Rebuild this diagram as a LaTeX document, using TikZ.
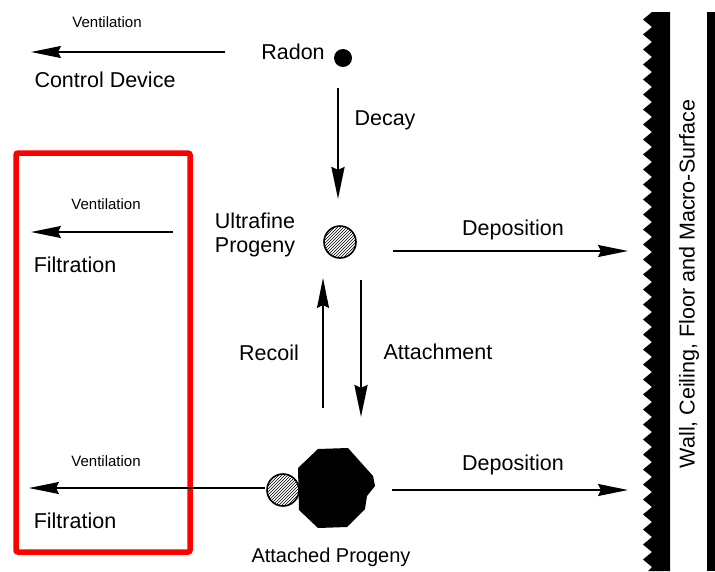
\documentclass[tikz,border=0pt]{standalone}
\usepackage{fontspec}
\setmainfont{Liberation Sans}
\usetikzlibrary{arrows.meta,patterns}
\begin{document}
\begin{tikzpicture}[x=1pt,y=-1pt,
  lbl/.style={inner sep=0pt, font=\fontsize{21.5}{24}\selectfont},
  smalllbl/.style={inner sep=0pt, font=\fontsize{15}{17}\selectfont},
  arr/.style={line width=1.7pt, -{Stealth[length=30pt,width=12pt,inset=3pt]}},
  thinarr/.style={line width=1.3pt, -{Stealth[length=30pt,width=12pt,inset=3pt]}},
  thickarr/.style={line width=2.8pt, -{Stealth[length=32pt,width=13pt,inset=3pt]}},
  hatchball/.style={circle, draw, line width=1.6pt, pattern=north east lines, minimum size=32pt, inner sep=0pt},
]
\useasboundingbox (0,0) rectangle (715,571);
\fill[white] (0,0) rectangle (715,571);

% wall
\fill (670,12) -- (652,12)
  \foreach \i in {0,...,36} { -- (643,{12+15*\i+7.5}) -- (652,{12+15*\i+15}) }
  -- (648,571) -- (670,571) -- cycle;
\fill (707,12) rectangle (715,571);
\node[lbl, rotate=90] (wall) at (689,284) {Wall, Ceiling, Floor and Macro-Surface};

% red box
\draw[red, line width=5.5pt, rounded corners=2pt] (16,153) rectangle (190,552);

% radon and decay
\node[lbl] (radonlbl) at (293,52) {Radon};
\node[circle, fill, minimum size=18pt, inner sep=0pt] (radon) at (343,58) {};
\node[smalllbl] (vent1) at (107,22) {Ventilation};
\node[lbl] (ctrl) at (105,80) {Control Device};
\coordinate (v1s) at (225,52);
\coordinate (v1e) at (31,52);
\draw[arr] (v1s) -- (v1e);

\coordinate (ds) at (338,88);
\coordinate (de) at (338,199);
\draw[thickarr] (ds) -- (de);
\node[lbl] (decay) at (385,120) {Decay};

% ultrafine
\node[lbl, align=center] (ufl) at (255,235) {Ultrafine\\Progeny};
\node[hatchball] (uf) at (340,242) {};
\coordinate (dp1s) at (393,251);
\coordinate (dp1e) at (628,251);
\draw[arr] (dp1s) -- (dp1e);
\node[lbl] (dep1) at (513,230) {Deposition};

\node[smalllbl] (vent2) at (106,204) {Ventilation};
\coordinate (v2s) at (173,232);
\coordinate (v2e) at (31,232);
\draw[arr] (v2s) -- (v2e);
\node[lbl] (filt1) at (75,265) {Filtration};

% recoil / attachment
\coordinate (rs) at (323,408);
\coordinate (re) at (323,278);
\draw[thinarr] (rs) -- (re);
\node[lbl] (recoil) at (269,353) {Recoil};
\coordinate (as) at (361,280);
\coordinate (ae) at (361,417);
\draw[thickarr] (as) -- (ae);
\node[lbl] (attach) at (438,352) {Attachment};

% attached progeny
\fill (318,449) -- (348,448) -- (373,476) -- (375,486) -- (367,496) -- (365,509)
  -- (347,527) -- (318,528) -- (299,510) -- (298,468) -- cycle;
\coordinate (att) at (337,488);
\node[hatchball] (small) at (283,490) {};
\node[lbl, font=\fontsize{20}{22}\selectfont] (attlbl) at (331,557) {Attached Progeny};

\coordinate (dp2s) at (392,490);
\coordinate (dp2e) at (628,490);
\draw[arr] (dp2s) -- (dp2e);
\node[lbl] (dep2) at (513,465) {Deposition};

\node[smalllbl] (vent3) at (106,461) {Ventilation};
\coordinate (v3s) at (265,488);
\coordinate (v3e) at (29,488);
\draw[thinarr] (v3s) -- (v3e);
\node[lbl] (filt2) at (75,521) {Filtration};
\end{tikzpicture}
\end{document}
